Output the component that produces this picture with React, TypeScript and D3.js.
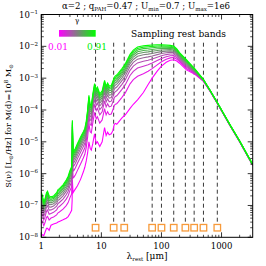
import React from "react";
import * as d3 from "d3";

// rest wavelength grid [micron]
const wavelengths = [
  1.0, 1.05, 1.1, 1.15, 1.22, 1.27, 1.35, 1.45, 1.6, 1.8, 1.9, 2.0, 2.3, 2.6, 2.8, 3.0, 3.2, 3.26, 3.29, 3.32,
  3.38, 3.5, 3.7, 4.0, 4.5, 5.0, 5.3, 5.6, 5.9, 6.2, 6.5, 6.8, 7.2, 7.7, 8.2, 8.6, 9.4, 10.3, 11.3, 12.0,
  12.7, 13.5, 14.6, 15.5, 16.4, 17.1, 18.0, 19.0, 22.0, 25.0, 30.0, 34.0, 40.0, 50.0, 60.0, 70.0, 85.0, 100,
  120, 140, 160, 180, 200, 260, 360, 500, 640, 860, 1380, 2000, 3300,
];
// log10 S(nu) for gamma = 0.91 (top, green)
const logTopGamma091 = [
  -6.57, -6.72, -6.88, -6.8, -6.6, -6.55, -6.7, -6.73, -6.7, -6.6, -6.5, -6.47, -6.35, -6.2, -6.08, -5.9, -5.78, -5.3, -4.32, -4.7,
  -5.3, -5.28, -5.2, -5.05, -4.85, -4.68, -4.58, -4.35, -4.0, -3.54, -3.82, -3.85, -3.5, -3.17, -3.35, -3.28, -3.49, -3.4, -3.07, -3.25,
  -3.15, -3.25, -3.23, -3.1, -2.97, -2.93, -2.9, -2.85, -2.7, -2.55, -2.25, -2.12, -2.02, -1.98, -1.97, -1.96, -1.95, -1.95,
  -1.96, -1.97, -1.99, -2.08, -2.2, -2.42, -2.71, -3.04, -3.37, -3.78, -4.46, -4.97, -5.71,
];
// log10 S(nu) for gamma = 0.01 (bottom, magenta)
const logBottomGamma001 = [
  -7.95, -7.92, -7.95, -7.85, -7.72, -7.72, -7.78, -7.62, -7.58, -7.55, -7.52, -7.5, -7.45, -7.4, -7.35, -7.25, -7.15, -6.85, -6.2, -6.35,
  -6.6, -6.55, -6.48, -6.38, -6.18, -5.95, -5.8, -5.6, -5.35, -5.0, -5.2, -5.26, -5.05, -4.75, -5.05, -5.0, -5.15, -5.0, -4.55, -4.8,
  -4.7, -4.78, -4.75, -4.65, -4.45, -4.42, -4.45, -4.4, -4.25, -4.15, -3.95, -3.82, -3.68, -3.45, -3.2, -3.0, -2.78, -2.62,
  -2.5, -2.44, -2.42, -2.46, -2.53, -2.74, -2.88, -3.1, -3.4, -3.81, -4.49, -5.0, -5.74,
];
const gammas = [0.01, 0.1, 0.19, 0.28, 0.37, 0.46, 0.55, 0.64, 0.73, 0.82, 0.91];
const bands = [8, 16, 24, 70, 100, 160, 250, 350, 500, 850];
const xTickValues = [1, 10, 100, 1000];
const xTickLabels = ["1", "10", "100", "1000"];
const yTickExps = [-8, -7, -6, -5, -4, -3, -2, -1];

const FONT = "DejaVu Serif";

export default function App() {
  const left = 41.3, right = 252.7, top = 14.5, bottom = 237.3;
  const x = d3.scaleLog().domain([1, 3300]).range([left, right]);
  const y = d3.scaleLog().domain([1e-8, 1e-1]).range([bottom, top]);
  const color = d3.interpolateRgb("#ff00ff", "#00ff00");
  const g0 = gammas[0], g1 = gammas[gammas.length - 1];

  const line = d3
    .line<[number, number]>()
    .x((d) => x(d[0]))
    .y((d) => y(d[1]));

  const curves = gammas.map((g) => {
    const f = (g - g0) / (g1 - g0);
    const pts: [number, number][] = wavelengths.map((w, i) => {
      const T = Math.pow(10, logTopGamma091[i]);
      const L = Math.pow(10, logBottomGamma001[i]);
      return [w, L + f * (T - L)];
    });
    return { g, f, d: line(pts) || "" };
  });

  // minor ticks
  const xMinor: number[] = [];
  for (let e = 0; e <= 3; e++) for (let k = 2; k <= 9; k++) {
    const v = k * Math.pow(10, e);
    if (v <= 3300) xMinor.push(v);
  }
  const yMinor: number[] = [];
  for (let e = -8; e < -1; e++) for (let k = 2; k <= 9; k++) yMinor.push(k * Math.pow(10, e));

  const sq = 6.5;
  const sqY = y(2e-8);
  const dashTop = y(1.3e-2);

  return (
    <svg width={266} height={266} style={{ position: "absolute", left: 0, top: 0, background: "#fff" }}
      fontFamily={FONT}>
      <defs>
        <clipPath id="plotclip">
          <rect x={left} y={top} width={right - left} height={bottom - top} />
        </clipPath>
        <linearGradient id="cbar" x1="0" x2="1" y1="0" y2="0">
          <stop offset="0" stopColor="#ff00ff" />
          <stop offset="1" stopColor="#00ff00" />
        </linearGradient>
      </defs>

      {/* title */}
      <text x={146} y={9} textAnchor="middle" fontSize={8.6}>
        α=2 ; q<tspan fontSize={5.5} dy={2}>PAH</tspan>
        <tspan dy={-2}>=0.47 ; U</tspan><tspan fontSize={5.5} dy={2}>min</tspan>
        <tspan dy={-2}>=0.7 ; U</tspan><tspan fontSize={5.5} dy={2}>max</tspan>
        <tspan dy={-2}>=1e6</tspan>
      </text>

      {/* dashed band lines */}
      <g clipPath="url(#plotclip)">
        {bands.map((b) => (
          <line key={b} x1={x(b)} x2={x(b)} y1={dashTop} y2={sqY - sq / 2}
            stroke="#222" strokeWidth={0.9} strokeDasharray="4,3" />
        ))}
        {curves.map((c) => (
          <path key={c.g} d={c.d} fill="none" stroke={color(c.f)} strokeWidth={1.1} />
        ))}
        {bands.map((b) => (
          <rect key={"s" + b} x={x(b) - sq / 2} y={sqY - sq / 2} width={sq} height={sq}
            fill="none" stroke="#f79a3a" strokeWidth={1.3} />
        ))}
      </g>

      {/* frame */}
      <rect x={left} y={top} width={right - left} height={bottom - top} fill="none" stroke="#000" strokeWidth={1} />

      {/* x ticks */}
      {xTickValues.map((v) => (
        <g key={"xt" + v}>
          <line x1={x(v)} x2={x(v)} y1={bottom} y2={bottom - 5} stroke="#000" strokeWidth={0.8} />
          <line x1={x(v)} x2={x(v)} y1={top} y2={top + 5} stroke="#000" strokeWidth={0.8} />
        </g>
      ))}
      {xMinor.map((v) => (
        <g key={"xm" + v}>
          <line x1={x(v)} x2={x(v)} y1={bottom} y2={bottom - 2.5} stroke="#000" strokeWidth={0.7} />
          <line x1={x(v)} x2={x(v)} y1={top} y2={top + 2.5} stroke="#000" strokeWidth={0.7} />
        </g>
      ))}
      {xTickValues.map((v, i) => (
        <text key={"xl" + v} x={x(v)} y={248.5} textAnchor="middle" fontSize={8.5}>{xTickLabels[i]}</text>
      ))}

      {/* y ticks */}
      {yTickExps.map((e) => {
        const yy = y(Math.pow(10, e));
        return (
          <g key={"yt" + e}>
            <line x1={left} x2={left + 5} y1={yy} y2={yy} stroke="#000" strokeWidth={0.8} />
            <line x1={right} x2={right - 5} y1={yy} y2={yy} stroke="#000" strokeWidth={0.8} />
            <text x={38} y={yy + 3} textAnchor="end" fontSize={8.5}>
              10<tspan fontSize={5.5} dy={-3.5}>{"−" + Math.abs(e)}</tspan>
            </text>
          </g>
        );
      })}
      {yMinor.map((v) => (
        <g key={"ym" + v}>
          <line x1={left} x2={left + 2.5} y1={y(v)} y2={y(v)} stroke="#000" strokeWidth={0.7} />
          <line x1={right} x2={right - 2.5} y1={y(v)} y2={y(v)} stroke="#000" strokeWidth={0.7} />
        </g>
      ))}

      {/* axis labels */}
      <text x={147} y={259} textAnchor="middle" fontSize={9}>
        λ<tspan fontSize={5.5} dy={2}>rest</tspan><tspan dy={-2}> [μm]</tspan>
      </text>
      <text transform="translate(11,126) rotate(-90)" textAnchor="middle" fontSize={8.2}>
        S(ν)  [L<tspan fontSize={5.5} dy={2}>⊙</tspan><tspan dy={-2}>/Hz]  for  M(d)=10</tspan>
        <tspan fontSize={5.5} dy={-3.5}>8</tspan><tspan dy={3.5}> M</tspan>
        <tspan fontSize={5.5} dy={2}>⊙</tspan>
      </text>

      {/* colour bar legend */}
      <rect x={59} y={30} width={36.7} height={6.7} fill="url(#cbar)" />
      <text x={77} y={23} textAnchor="middle" fontSize={7}>γ</text>
      <text x={48} y={50} fontSize={9} fill="#ff00ff">0.01</text>
      <text x={87} y={50} fontSize={9} fill="#00ee00">0.91</text>

      <text x={131} y={37} fontSize={9.5} textLength={95} lengthAdjust="spacingAndGlyphs">Sampling rest bands</text>
    </svg>
  );
}
